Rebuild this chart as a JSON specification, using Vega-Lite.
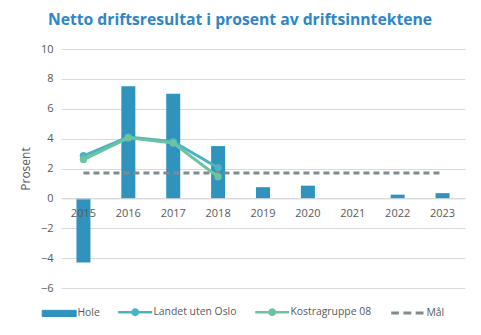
{
  "$schema": "https://vega.github.io/schema/vega-lite/v6.json",
  "width": 404,
  "height": 239,
  "autosize": {"type": "none"},
  "padding": {"left": 61, "top": 49, "right": 16, "bottom": 47},
  "background": "white",
  "config": {"view": {"stroke": null}},
  "title": {
    "text": "Netto driftsresultat i prosent av driftsinntektene",
    "font": "Open Sans",
    "fontSize": 15.7,
    "fontWeight": "bold",
    "color": "#2E86C8",
    "anchor": "middle",
    "dx": -23,
    "offset": 14
  },
  "data": {
    "values": [
      {"year": "2015", "series": "Hole", "value": -4.3},
      {"year": "2016", "series": "Hole", "value": 7.5},
      {"year": "2017", "series": "Hole", "value": 7.0},
      {"year": "2018", "series": "Hole", "value": 3.5},
      {"year": "2019", "series": "Hole", "value": 0.75},
      {"year": "2020", "series": "Hole", "value": 0.85},
      {"year": "2021", "series": "Hole", "value": 0},
      {"year": "2022", "series": "Hole", "value": 0.25},
      {"year": "2023", "series": "Hole", "value": 0.35},
      {"year": "2015", "series": "Landet uten Oslo", "value": 2.85},
      {"year": "2016", "series": "Landet uten Oslo", "value": 4.1},
      {"year": "2017", "series": "Landet uten Oslo", "value": 3.8},
      {"year": "2018", "series": "Landet uten Oslo", "value": 2.05},
      {"year": "2015", "series": "Kostragruppe 08", "value": 2.6},
      {"year": "2016", "series": "Kostragruppe 08", "value": 4.05},
      {"year": "2017", "series": "Kostragruppe 08", "value": 3.7},
      {"year": "2018", "series": "Kostragruppe 08", "value": 1.45},
      {"year": "2015", "series": "Mål", "value": 1.7},
      {"year": "2016", "series": "Mål", "value": 1.7},
      {"year": "2017", "series": "Mål", "value": 1.7},
      {"year": "2018", "series": "Mål", "value": 1.7},
      {"year": "2019", "series": "Mål", "value": 1.7},
      {"year": "2020", "series": "Mål", "value": 1.7},
      {"year": "2021", "series": "Mål", "value": 1.7},
      {"year": "2022", "series": "Mål", "value": 1.7},
      {"year": "2023", "series": "Mål", "value": 1.7}
    ]
  },
  "encoding": {
    "x": {
      "field": "year",
      "type": "ordinal",
      "title": null,
      "scale": {"paddingInner": 0, "paddingOuter": 0},
      "axis": {
        "offset": -89.6,
        "labelAngle": 0,
        "ticks": false,
        "domainColor": "#D9D9D9",
        "labelPadding": 9,
        "labelFont": "Open Sans",
        "labelFontSize": 11,
        "labelColor": "#595959",
        "zindex": 1
      }
    },
    "y": {
      "field": "value",
      "type": "quantitative",
      "title": "Prosent",
      "scale": {"domain": [-6, 10], "nice": false},
      "axis": {
        "values": [-6, -4, -2, 0, 2, 4, 6, 8, 10],
        "domain": false,
        "ticks": false,
        "gridColor": "#D9D9D9",
        "labelPadding": 8,
        "labelFont": "Open Sans",
        "labelFontSize": 11,
        "labelColor": "#595959",
        "titleFont": "Open Sans",
        "titleFontSize": 12,
        "titleFontWeight": "normal",
        "titleColor": "#595959",
        "titlePadding": 8
      }
    },
    "color": {
      "field": "series",
      "type": "nominal",
      "scale": {
        "domain": ["Hole", "Landet uten Oslo", "Kostragruppe 08", "Mål"],
        "range": ["#2F93BE", "#4BB3C4", "#6CC3A0", "#7F8C8D"]
      },
      "legend": {
        "title": null,
        "orient": "none",
        "legendX": -7,
        "legendY": 258,
        "direction": "horizontal",
        "labelFont": "Open Sans",
        "labelFontSize": 10.4,
        "labelColor": "#595959",
        "symbolSize": 4624,
        "labelOffset": 13,
        "columnPadding": 13,
        "encode": {
          "symbols": {
            "update": {
              "shape": {"signal": "datum.value === 'Hole' ? 'M-0.5,-0.09H0.5V0.09H-0.5Z' : datum.value === 'Mål' ? 'M-0.5,0H-0.27M-0.14,0H0.09M0.22,0H0.45' : 'M-0.5,0H0.5M0.08,0A0.08,0.08 0 1,1 -0.08,0A0.08,0.08 0 1,1 0.08,0'"},
              "fill": {"signal": "datum.value === 'Mål' ? 'transparent' : scale('color', datum.value)"},
              "stroke": {"signal": "scale('color', datum.value)"},
              "strokeWidth": {"signal": "datum.value === 'Hole' ? 1 : datum.value === 'Mål' ? 3 : 2.5"},
              "opacity": {"value": 1}
            }
          }
        }
      }
    }
  },
  "layer": [
    {
      "transform": [{"filter": "datum.series === 'Hole'"}],
      "mark": {"type": "bar", "size": 14}
    },
    {
      "transform": [{"filter": "datum.series === 'Mål'"}],
      "mark": {"type": "line", "strokeDash": [6, 4], "strokeWidth": 3}
    },
    {
      "transform": [{"filter": "datum.series === 'Landet uten Oslo' || datum.series === 'Kostragruppe 08'"}],
      "mark": {"type": "line", "strokeWidth": 3, "point": {"size": 55, "filled": true}}
    }
  ]
}
